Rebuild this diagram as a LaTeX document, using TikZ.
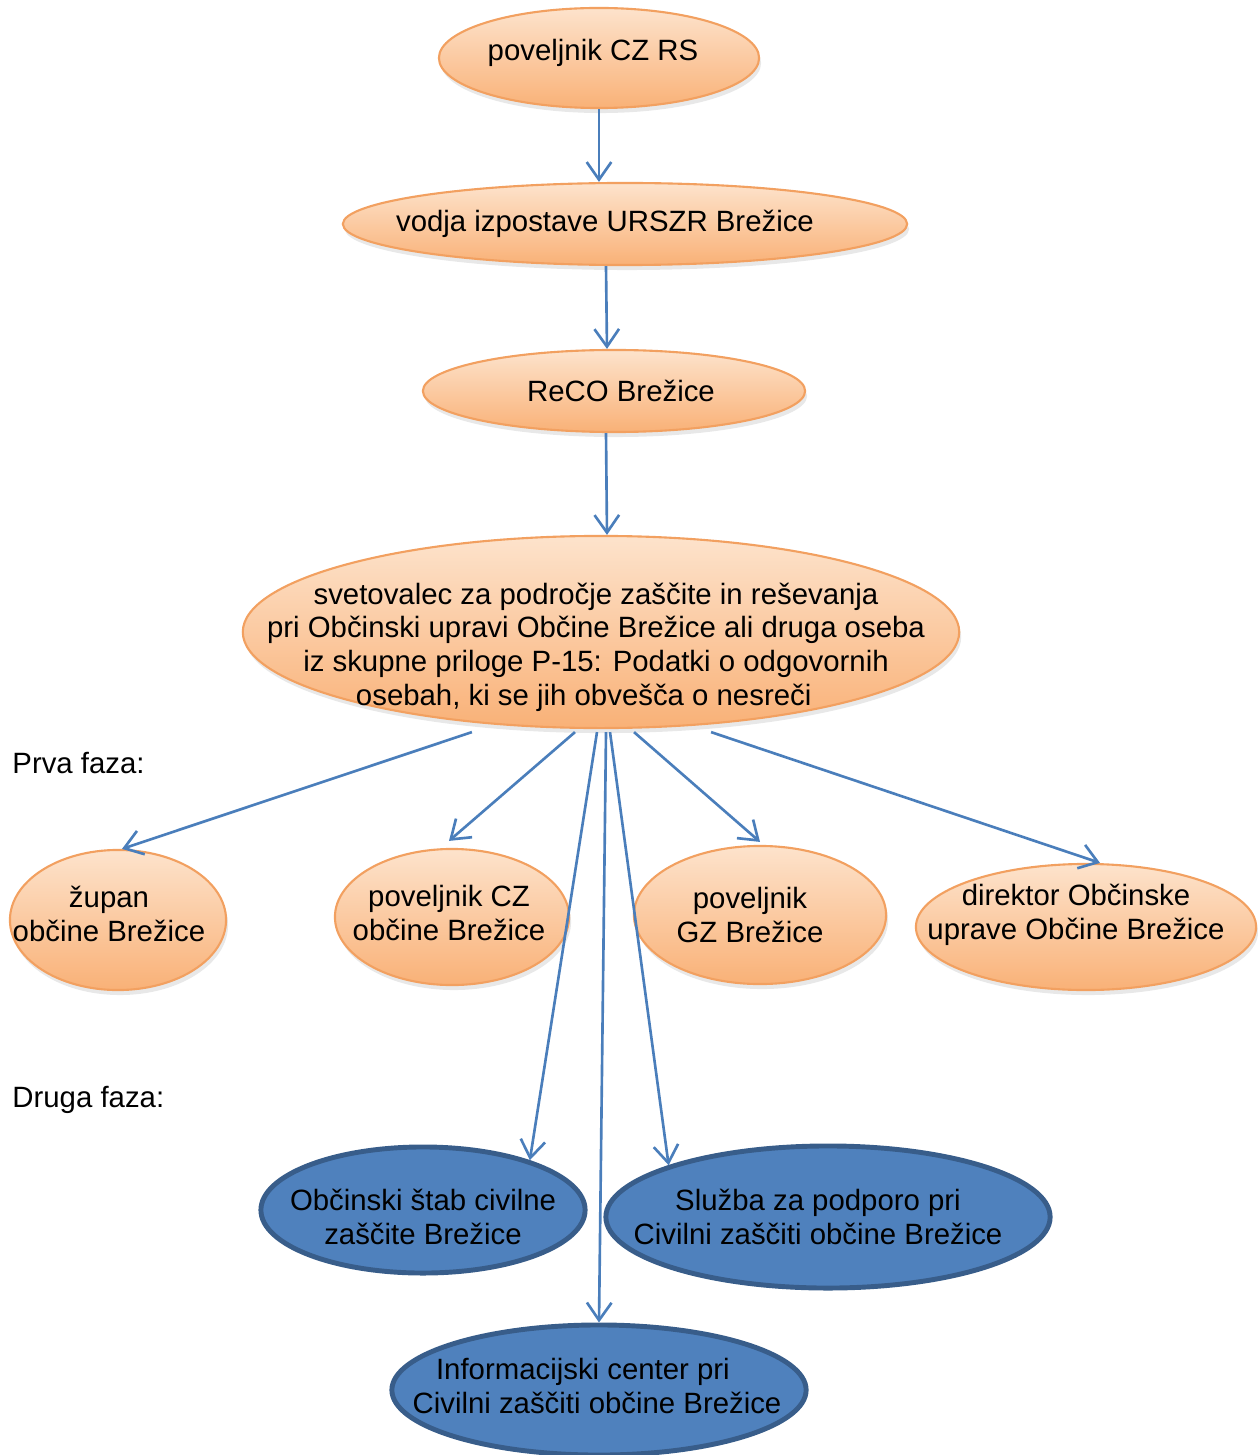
\documentclass[tikz,border=0pt]{standalone}
\usepackage{fontspec}
\setmainfont{Liberation Sans}
\usetikzlibrary{shapes.geometric,arrows.meta,shadows}
\definecolor{oranzrob}{HTML}{F2A060}
\definecolor{oranzgor}{HTML}{FDE3CC}
\definecolor{oranzdol}{HTML}{F9B177}
\definecolor{modrapol}{HTML}{4F81BD}
\definecolor{modrarob}{HTML}{385D8A}
\definecolor{puscice}{HTML}{4A7EBB}

\begin{document}
\begin{tikzpicture}[x=0.01cm, y=-0.01cm,
  every node/.style = {font=\fontsize{8.35}{9.55}\selectfont, align=center},
  oranzna/.style = {ellipse, draw=oranzrob, line width=0.6pt, top color=oranzgor,
    bottom color=oranzdol, inner sep=0pt,
    drop shadow={opacity=0.18, shadow xshift=0.02cm, shadow yshift=-0.05cm}},
  modra/.style = {ellipse, draw=modrarob, line width=1.4pt, fill=modrapol, inner sep=0pt},
  puscica/.style = {draw=puscice, line width=0.75pt, -{Straight Barb[length=5pt,width=7pt]}}]
  \useasboundingbox (0,0) rectangle (1258,1455);

  \node[oranzna, minimum width=3.2cm, minimum height=1.0cm,
    label={[xshift=-0.06cm, yshift=0.05cm]center:poveljnik CZ RS}] (rs) at (599,58) {};
  \node[oranzna, minimum width=5.64cm, minimum height=0.82cm,
    label={[xshift=-0.2cm]center:vodja izpostave URSZR Brežice}] (vodja) at (625,224) {};
  \node[oranzna, minimum width=3.82cm, minimum height=0.82cm,
    label={[xshift=0.07cm]center:ReCO Brežice}] (reco) at (614,391) {};
  \node[oranzna, minimum width=7.16cm, minimum height=1.92cm,
    label={[xshift=-0.05cm, yshift=-0.15cm]center:svetovalec za področje zaščite in reševanja\\
      pri Občinski upravi Občine Brežice ali druga oseba\\
      iz skupne priloge P-15: Podatki o odgovornih\hspace*{12pt}\\
      osebah, ki se jih obvešča o nesreči\hspace*{7pt}}] (svet) at (601,632) {};

  % prva faza
  \node[anchor=west] (prva) at (0,763) {Prva faza:};
  \node[oranzna, minimum width=2.16cm, minimum height=1.4cm,
    label={[xshift=-0.09cm, yshift=0.06cm]center:župan\\občine Brežice}] (zupan) at (118,920) {};
  \node[oranzna, minimum width=2.34cm, minimum height=1.36cm,
    label={[xshift=-0.03cm, yshift=0.04cm]center:poveljnik CZ\\občine Brežice}] (czob) at (452,917) {};
  \node[oranzna, minimum width=2.52cm, minimum height=1.38cm,
    label={[xshift=-0.1cm]center:poveljnik\\GZ Brežice}] (gz) at (760,915) {};
  \node[oranzna, minimum width=3.4cm, minimum height=1.26cm,
    label={[xshift=-0.1cm, yshift=0.12cm]center:direktor Občinske\\uprave Občine Brežice}] (direktor) at (1086,927) {};

  % druga faza
  \node[anchor=west] (druga) at (0,1100) {Druga faza:};
  \node[modra, minimum width=3.24cm, minimum height=1.26cm,
    label={[yshift=-0.07cm]center:Občinski štab civilne\\zaščite Brežice}] (stab) at (423,1210) {};
  \node[modra, minimum width=4.44cm, minimum height=1.42cm,
    label={[xshift=-0.1cm]center:Služba za podporo pri\\Civilni zaščiti občine Brežice}] (sluzba) at (828,1217) {};
  \node[modra, minimum width=4.14cm, minimum height=1.3cm,
    label={[xshift=-0.02cm, yshift=0.04cm]center:Informacijski center pri\hspace*{8pt}\\Civilni zaščiti občine Brežice}] (info) at (599,1390) {};

  \draw[puscica] (rs.south) -- (vodja.north -| rs.south);
  \draw[puscica] ([xshift=-0.19cm]vodja.south) -- ([xshift=-0.07cm]reco.north);
  \draw[puscica] ([xshift=-0.08cm]reco.south) -- ([xshift=0.06cm]svet.north);
  \draw[puscica] ([xshift=-1.29cm, yshift=-0.03cm]svet.south) -- ([xshift=0.04cm]zupan.north);
  \draw[puscica] ([xshift=-0.26cm, yshift=-0.03cm]svet.south) -- ([xshift=-0.03cm, yshift=0.07cm]czob.north);
  \draw[puscica] ([xshift=0.33cm, yshift=-0.03cm]svet.south) -- ([yshift=0.03cm]gz.north);
  \draw[puscica] ([xshift=1.1cm, yshift=-0.03cm]svet.south) -- ([xshift=0.14cm]direktor.north);
  \draw[puscica] ([xshift=-0.04cm, yshift=-0.03cm]svet.south) -- (stab.25);
  \draw[puscica] ([xshift=0.05cm, yshift=-0.03cm]svet.south) -- (info.north);
  \draw[puscica] ([xshift=0.09cm, yshift=-0.03cm]svet.south) -- (sluzba.162);
\end{tikzpicture}
\end{document}
